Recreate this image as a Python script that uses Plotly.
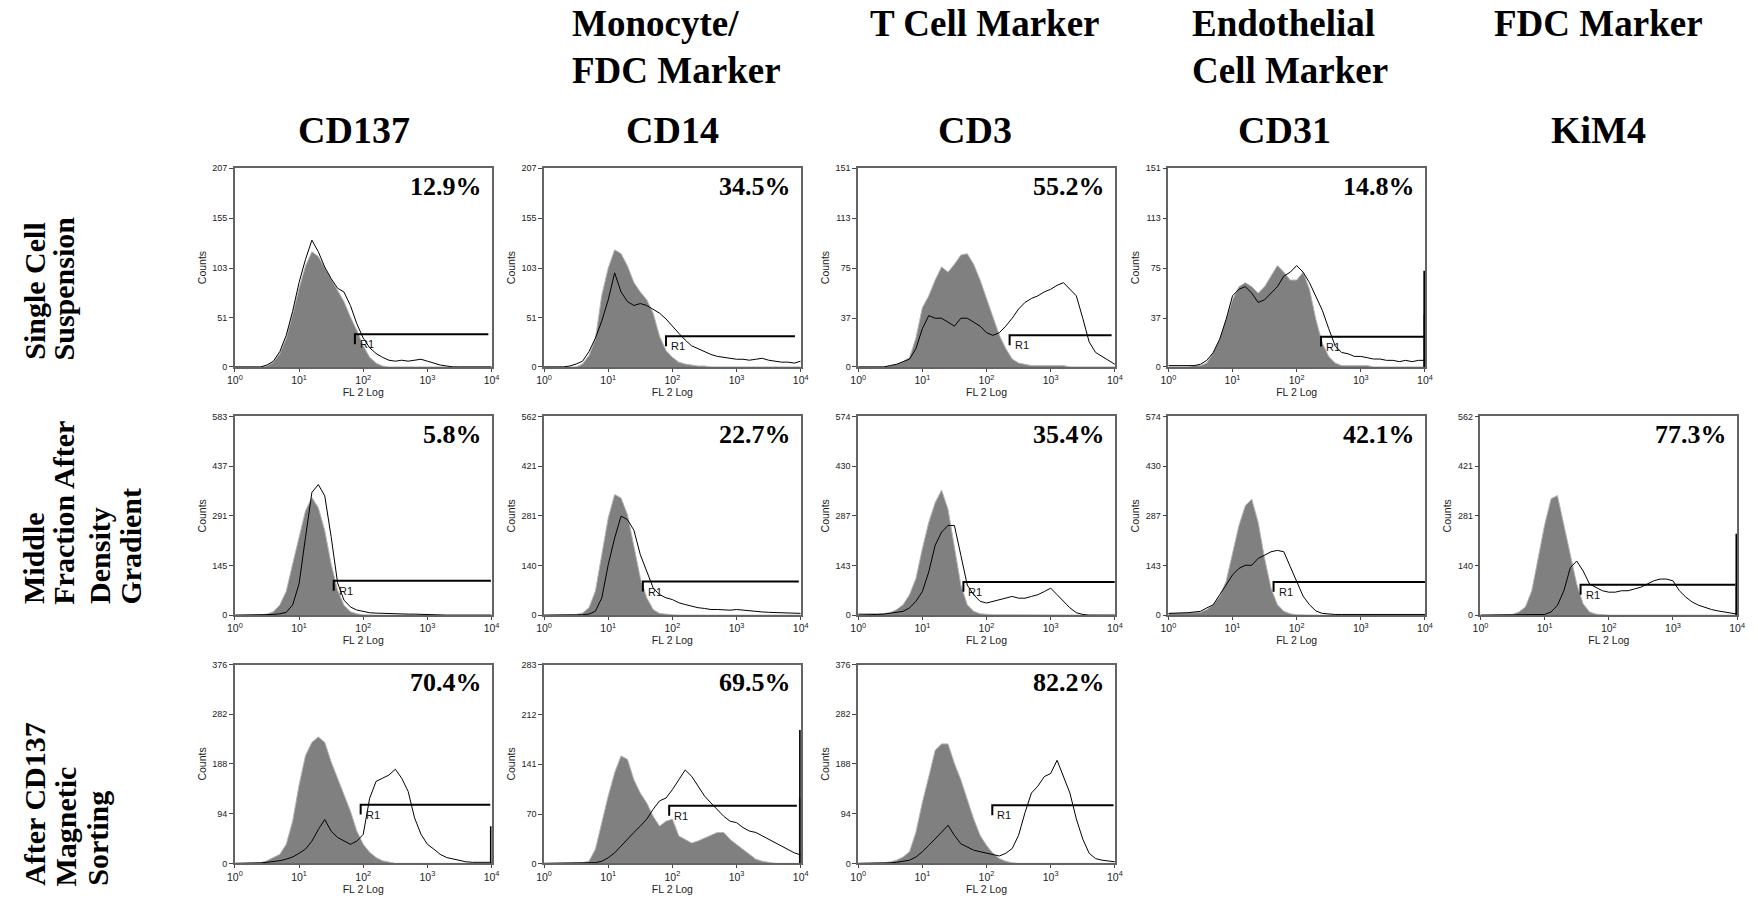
import plotly.graph_objects as go

# ---------------------------------------------------------------- data
# FL2 fluorescence positions of the histogram samples, in decades (10^0 .. 10^4)
FL2_LOG = [0.0, 0.1, 0.2, 0.3, 0.4, 0.5, 0.6, 0.7, 0.8, 0.9,
           1.0, 1.1, 1.2, 1.3, 1.4, 1.5, 1.6, 1.7, 1.8, 1.9,
           2.0, 2.1, 2.2, 2.3, 2.4, 2.5, 2.6, 2.7, 2.8, 2.9,
           3.0, 3.1, 3.2, 3.3, 3.4, 3.5, 3.6, 3.7, 3.8, 3.9, 4.0]
LAST_CHANNEL = 3.99  # off-scale events pile up here

MARKERS = ["CD137", "CD14", "CD3", "CD31", "KiM4"]
MARKER_ROLE = ["", "Monocyte/\nFDC Marker", "T Cell Marker", "Endothelial\nCell Marker", "FDC Marker"]
STAGES = ["Single Cell\nSuspension",
          "Middle\nFraction After\nDensity\nGradient",
          "After CD137\nMagnetic\nSorting"]

# isotype control (grey fill) and specific stain (black line), counts per FL2 position
ISO_SCS_CD137 = [0, 0, 0, 0, 0, 1, 5, 14, 30, 55, 82, 105, 120, 115, 103, 92, 80, 68, 52, 38,
                 22, 10, 4, 1, 0, 0, 0, 0, 0, 0, 0, 0, 0, 0, 0, 0, 0, 0, 0, 0, 0]
STN_SCS_CD137 = [0, 0, 0, 0, 0, 2, 6, 16, 33, 58, 88, 112, 132, 120, 104, 92, 82, 78, 64, 45,
                 30, 20, 14, 10, 7, 6, 7, 6, 7, 8, 6, 4, 2, 1, 0, 0, 0, 0, 0, 0, 0]
ISO_SCS_CD14 = [0, 0, 0, 0, 0, 0, 3, 12, 29, 75, 103, 122, 118, 105, 88, 78, 70, 56, 32, 17,
                10, 5, 3, 2, 1, 1, 0, 0, 0, 0, 0, 0, 0, 0, 0, 0, 0, 0, 0, 0, 0]
STN_SCS_CD14 = [0, 0, 0, 0, 1, 3, 6, 16, 30, 48, 70, 98, 78, 68, 64, 66, 64, 60, 56, 50,
                42, 35, 28, 22, 19, 16, 13, 11, 10, 9, 8, 8, 7, 8, 9, 7, 6, 5, 5, 4, 6]
ISO_SCS_CD3 = [0, 0, 0, 0, 0, 1, 2, 4, 7, 22, 45, 54, 66, 76, 72, 78, 85, 86, 78, 66,
               52, 37, 24, 14, 6, 3, 2, 1, 1, 1, 1, 1, 1, 0, 0, 0, 0, 0, 0, 0, 0]
STN_SCS_CD3 = [0, 0, 0, 0, 0, 1, 2, 4, 6, 14, 29, 39, 37, 37, 34, 31, 37, 37, 34, 31,
               26, 24, 26, 31, 37, 44, 49, 52, 54, 57, 59, 62, 64, 59, 54, 37, 19, 11, 8, 5, 2]
ISO_SCS_CD31 = [0, 0, 0, 0, 1, 1, 3, 11, 21, 36, 51, 61, 64, 61, 56, 61, 69, 77, 72, 66,
                66, 72, 59, 36, 18, 8, 3, 1, 1, 1, 1, 1, 0, 0, 0, 0, 0, 0, 0, 0, 0]
STN_SCS_CD31 = [1, 1, 1, 1, 1, 2, 5, 11, 21, 36, 54, 59, 61, 56, 49, 51, 56, 61, 69, 72,
                77, 72, 64, 54, 43, 29, 16, 11, 10, 8, 8, 7, 6, 6, 5, 5, 4, 5, 4, 5, 5]

ISO_MID_CD137 = [0, 0, 0, 0, 0, 3, 10, 30, 70, 150, 228, 306, 345, 315, 248, 150, 73, 29, 10, 4,
                 1, 0, 0, 0, 0, 0, 0, 0, 0, 0, 0, 0, 0, 0, 0, 0, 0, 0, 0, 0, 0]
STN_MID_CD137 = [0, 0, 0, 0, 0, 0, 2, 4, 8, 30, 92, 228, 360, 383, 350, 230, 95, 44, 24, 15,
                 10, 7, 6, 5, 4, 4, 3, 3, 3, 2, 2, 1, 1, 0, 0, 0, 0, 0, 0, 0, 0]
ISO_MID_CD14 = [0, 0, 0, 0, 0, 2, 6, 21, 68, 171, 275, 341, 331, 284, 190, 105, 49, 16, 5, 2,
                1, 0, 0, 0, 0, 0, 0, 0, 0, 0, 0, 0, 0, 0, 0, 0, 0, 0, 0, 0, 0]
STN_MID_CD14 = [0, 0, 0, 0, 0, 0, 1, 3, 11, 49, 143, 218, 280, 270, 240, 171, 124, 77, 58, 49,
                44, 35, 30, 25, 21, 19, 16, 16, 14, 14, 16, 14, 11, 11, 9, 8, 7, 7, 6, 5, 5]
ISO_MID_CD3 = [5, 4, 5, 4, 5, 7, 16, 30, 59, 106, 192, 268, 325, 361, 306, 192, 87, 30, 11, 4,
               2, 1, 1, 1, 0, 0, 0, 0, 0, 0, 0, 0, 0, 0, 0, 0, 0, 0, 0, 0, 0]
STN_MID_CD3 = [0, 0, 0, 2, 3, 5, 7, 11, 21, 40, 68, 125, 202, 240, 259, 259, 173, 87, 59, 40,
               35, 40, 45, 49, 54, 49, 49, 54, 59, 68, 78, 59, 40, 21, 7, 2, 0, 0, 0, 0, 0]
ISO_MID_CD31 = [5, 5, 6, 6, 7, 8, 16, 30, 54, 97, 183, 259, 316, 335, 268, 164, 78, 30, 11, 4,
                1, 0, 0, 0, 0, 0, 0, 0, 0, 0, 0, 0, 0, 0, 0, 0, 0, 0, 0, 0, 0]
STN_MID_CD31 = [5, 5, 6, 7, 9, 11, 21, 30, 59, 87, 116, 135, 144, 144, 164, 173, 183, 187, 183, 140,
                100, 55, 30, 12, 5, 3, 2, 2, 2, 2, 2, 2, 2, 2, 2, 2, 2, 2, 2, 2, 2]
ISO_MID_KIM4 = [0, 0, 0, 0, 0, 2, 9, 23, 69, 162, 255, 329, 338, 255, 171, 88, 32, 9, 3, 1,
                0, 0, 0, 0, 0, 0, 0, 0, 0, 0, 0, 0, 0, 0, 0, 0, 0, 0, 0, 0, 0]
STN_MID_KIM4 = [0, 0, 0, 0, 0, 0, 0, 0, 1, 1, 2, 9, 28, 69, 134, 153, 125, 88, 79, 69,
                65, 65, 69, 69, 74, 79, 88, 97, 102, 102, 97, 69, 51, 37, 28, 21, 16, 12, 9, 5, 3]

ISO_MAG_CD137 = [0, 0, 0, 1, 1, 5, 11, 17, 36, 80, 148, 204, 229, 239, 229, 192, 161, 130, 99, 61,
                 36, 21, 11, 5, 2, 0, 0, 0, 0, 0, 0, 0, 0, 0, 0, 0, 0, 0, 0, 0, 0]
STN_MAG_CD137 = [0, 0, 0, 0, 1, 2, 3, 5, 8, 12, 19, 27, 42, 64, 83, 61, 49, 42, 36, 42,
                 55, 123, 155, 161, 167, 178, 161, 136, 86, 55, 36, 27, 17, 11, 8, 5, 3, 2, 2, 2, 2]
ISO_MAG_CD14 = [0, 0, 0, 0, 0, 0, 1, 3, 20, 58, 96, 129, 153, 148, 119, 100, 86, 67, 53, 60,
                63, 39, 34, 29, 32, 36, 41, 44, 44, 34, 27, 20, 13, 6, 3, 1, 0, 0, 0, 0, 0]
STN_MAG_CD14 = [0, 0, 0, 0, 0, 0, 0, 0, 1, 3, 8, 15, 25, 34, 44, 53, 63, 77, 89, 93,
                105, 119, 133, 124, 110, 96, 86, 77, 67, 60, 58, 51, 46, 44, 39, 34, 29, 25, 20, 15, 12]
ISO_MAG_CD3 = [0, 0, 0, 0, 1, 3, 6, 12, 22, 59, 115, 164, 214, 226, 226, 189, 158, 121, 84, 53,
               34, 19, 9, 4, 1, 0, 0, 0, 0, 0, 0, 0, 0, 0, 0, 0, 0, 0, 0, 0, 0]
STN_MAG_CD3 = [0, 0, 0, 0, 0, 1, 2, 4, 6, 12, 22, 34, 46, 59, 72, 53, 37, 31, 25, 22,
               19, 17, 14, 19, 28, 53, 96, 133, 146, 164, 170, 195, 164, 133, 84, 46, 19, 9, 6, 4, 3]

# panel order: stage row, marker column
PANEL_STAGE = [0, 0, 0, 0, 1, 1, 1, 1, 1, 2, 2, 2]
PANEL_MARKER = [0, 1, 2, 3, 0, 1, 2, 3, 4, 0, 1, 2]
ISO = [ISO_SCS_CD137, ISO_SCS_CD14, ISO_SCS_CD3, ISO_SCS_CD31,
       ISO_MID_CD137, ISO_MID_CD14, ISO_MID_CD3, ISO_MID_CD31, ISO_MID_KIM4,
       ISO_MAG_CD137, ISO_MAG_CD14, ISO_MAG_CD3]
STAIN = [STN_SCS_CD137, STN_SCS_CD14, STN_SCS_CD3, STN_SCS_CD31,
         STN_MID_CD137, STN_MID_CD14, STN_MID_CD3, STN_MID_CD31, STN_MID_KIM4,
         STN_MAG_CD137, STN_MAG_CD14, STN_MAG_CD3]
ISO_OVERFLOW = [0, 0, 0, 40, 0, 0, 0, 0, 90, 0, 93, 0]
STAIN_OVERFLOW = [0, 0, 0, 73, 0, 0, 0, 0, 230, 70, 190, 0]

Y_MAX = [207, 207, 151, 151, 583, 562, 574, 574, 562, 376, 283, 376]
Y_TICKS = [[0, 51, 103, 155, 207], [0, 51, 103, 155, 207],
           [0, 37, 75, 113, 151], [0, 37, 75, 113, 151],
           [0, 145, 291, 437, 583], [0, 140, 281, 421, 562],
           [0, 143, 287, 430, 574], [0, 143, 287, 430, 574],
           [0, 140, 281, 421, 562],
           [0, 94, 188, 282, 376], [0, 70, 141, 212, 283], [0, 94, 188, 282, 376]]

PERCENT_R1 = ["12.9%", "34.5%", "55.2%", "14.8%", "5.8%", "22.7%", "35.4%", "42.1%",
              "77.3%", "70.4%", "69.5%", "82.2%"]
GATE_START = [1.87, 1.90, 2.36, 2.38, 1.54, 1.54, 1.64, 1.64, 1.56, 1.96, 1.95, 2.09]
GATE_END = [3.95, 3.91, 3.95, 3.98, 3.99, 3.97, 4.0, 4.0, 3.97, 3.98, 3.94, 3.98]
GATE_LEVEL = [34, 32, 24, 23, 101, 95, 96, 96, 86, 111, 82, 110]
X_TICK_DECADES = [0, 1, 2, 3, 4]

# ---------------------------------------------------------------- layout geometry (px)
W, H = 1758, 900
COL_LEFT = [229, 541, 858, 1171, 1486]
ROW_TOP = [165, 416, 667]
PW, PH = 259, 201

SERIF = "Liberation Serif, Times New Roman, serif"
SANS = "Liberation Sans, Arial, sans-serif"

fig = go.Figure()
layout = dict(
    width=W, height=H, margin=dict(l=0, r=0, t=0, b=0),
    paper_bgcolor="white", plot_bgcolor="white", showlegend=False,
    annotations=[],
)

xvals = [10 ** v for v in FL2_LOG]

for i in range(len(ISO)):
    n = i + 1
    xa = "x" if n == 1 else f"x{n}"
    ya = "y" if n == 1 else f"y{n}"
    r, c = PANEL_STAGE[i], PANEL_MARKER[i]
    x0, y0 = COL_LEFT[c], ROW_TOP[r]
    ymax = Y_MAX[i]

    fig.add_trace(go.Scatter(
        x=xvals, y=ISO[i], mode="lines", fill="tozeroy",
        fillcolor="rgb(128,128,128)", line=dict(color="rgb(180,180,180)", width=1),
        xaxis=xa, yaxis=ya, hoverinfo="skip"))
    if ISO_OVERFLOW[i]:
        fig.add_trace(go.Scatter(
            x=[10 ** LAST_CHANNEL] * 2, y=[0, ISO_OVERFLOW[i]], mode="lines",
            line=dict(color="rgb(150,150,150)", width=2.5), xaxis=xa, yaxis=ya, hoverinfo="skip"))
    fig.add_trace(go.Scatter(
        x=xvals, y=STAIN[i], mode="lines", line=dict(color="black", width=1),
        xaxis=xa, yaxis=ya, hoverinfo="skip"))
    if STAIN_OVERFLOW[i]:
        fig.add_trace(go.Scatter(
            x=[10 ** LAST_CHANNEL] * 2, y=[0, STAIN_OVERFLOW[i]], mode="lines",
            line=dict(color="black", width=2), xaxis=xa, yaxis=ya, hoverinfo="skip"))

    # R1 marker gate: bar with a short drop at its start
    drop = 0.05 * ymax
    fig.add_trace(go.Scatter(
        x=[10 ** GATE_START[i], 10 ** GATE_START[i], 10 ** GATE_END[i]],
        y=[GATE_LEVEL[i] - drop, GATE_LEVEL[i], GATE_LEVEL[i]],
        mode="lines", line=dict(color="black", width=2), xaxis=xa, yaxis=ya, hoverinfo="skip"))

    axis_line = dict(showline=True, linecolor="rgb(100,100,100)", linewidth=1.5, mirror=True,
                     showgrid=False, zeroline=False, ticks="outside", tickcolor="rgb(70,70,70)")
    layout["xaxis" if n == 1 else f"xaxis{n}"] = dict(
        domain=[x0 / W, (x0 + PW) / W], anchor=ya, type="log", range=[0, 4],
        tickvals=[10 ** d for d in X_TICK_DECADES],
        ticktext=[f"10<sup>{d}</sup>" for d in X_TICK_DECADES],
        ticklen=3, tickfont=dict(family=SANS, size=10.5, color="#222"),
        title=dict(text="FL 2 Log", font=dict(family=SANS, size=10.5, color="#222"), standoff=0),
        **axis_line)
    layout["yaxis" if n == 1 else f"yaxis{n}"] = dict(
        domain=[1 - (y0 + PH) / H, 1 - y0 / H], anchor=xa, range=[0, ymax],
        tickvals=Y_TICKS[i], ticktext=[str(t) for t in Y_TICKS[i]],
        ticklen=4, tickfont=dict(family=SANS, size=9, color="#222"),
        title=dict(text="Counts", font=dict(family=SANS, size=10.5, color="#222"), standoff=4),
        **axis_line)

    dref = "x domain" if n == 1 else f"x{n} domain"
    yref = "y domain" if n == 1 else f"y{n} domain"
    layout["annotations"].append(dict(
        text=f"<b>{PERCENT_R1[i]}</b>", xref=dref, yref=yref, x=1, y=1,
        xanchor="right", yanchor="middle", xshift=-8, yshift=-18, showarrow=False,
        font=dict(family=SERIF, size=26, color="black")))
    layout["annotations"].append(dict(
        text="R1", xref=xa, yref=ya, x=GATE_START[i], y=GATE_LEVEL[i],
        xanchor="left", yanchor="top", xshift=3, yshift=-2, showarrow=False,
        font=dict(family=SANS, size=11, color="#111")))

# column headers: marker role (up to two lines) and marker name
ROLE_X = [None, (567, "left"), (985, "center"), (1193, "left"), (1605, "center")]
ROLE_LINE_Y = [19, 66]
NAME_X = [349, 671, 976, 1288, 1605]
NAME_Y = 126
for c, role in enumerate(MARKER_ROLE):
    if role:
        px, anchor = ROLE_X[c]
        for k, line in enumerate(role.split("\n")):
            layout["annotations"].append(dict(
                text=f"<b>{line}</b>", xref="paper", yref="paper",
                x=px / W, y=1 - ROLE_LINE_Y[k] / H, xanchor=anchor, yanchor="middle",
                showarrow=False, font=dict(family=SERIF, size=37, color="black")))
    layout["annotations"].append(dict(
        text=f"<b>{MARKERS[c]}</b>", xref="paper", yref="paper",
        x=NAME_X[c] / W, y=1 - NAME_Y / H, xanchor="center", yanchor="middle",
        showarrow=False, font=dict(family=SERIF, size=38, color="black")))

# row labels, rotated, one annotation per line
STAGE_LINE_X = [[27, 57], [25, 56, 93, 124], [26, 58, 90]]
STAGE_BOTTOM = [361, 608, 893]
for r, stage in enumerate(STAGES):
    for k, line in enumerate(stage.split("\n")):
        layout["annotations"].append(dict(
            text=f"<b>{line}</b>", xref="paper", yref="paper",
            x=STAGE_LINE_X[r][k] / W, y=1 - STAGE_BOTTOM[r] / H,
            xanchor="center", yanchor="bottom", textangle=-90,
            showarrow=False, font=dict(family=SERIF, size=30, color="black")))

fig.update_layout(**layout)
fig.write_html("out.html")
